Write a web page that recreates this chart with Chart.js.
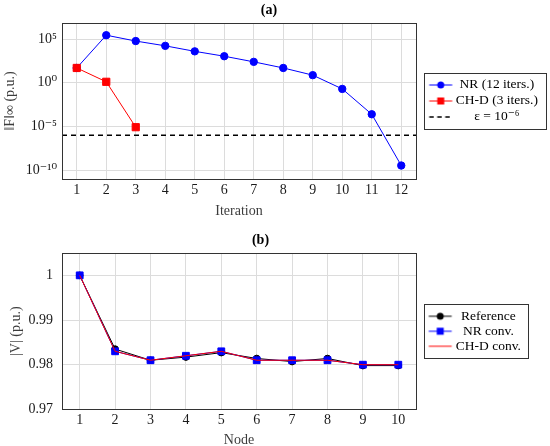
<!DOCTYPE html>
<html>
<head>
<meta charset="utf-8">
<script src="https://cdn.jsdelivr.net/npm/chart.js@4.4.1/dist/chart.umd.min.js"></script>
<style>
  html, body { margin: 0; padding: 0; background: #fff; overflow: hidden; }
  .box { position: relative; width: 550px; }
</style>
</head>
<body>
<div class="box" style="height:224px"><canvas id="chartA"></canvas></div>
<div class="box" style="height:225px"><canvas id="chartB"></canvas></div>
<script>
// (a) residual norm per iteration
const iterations = [1, 2, 3, 4, 5, 6, 7, 8, 9, 10, 11, 12];
const nrResidual = [50, 2.8e5, 6e4, 1.7e4, 4e3, 1.1e3, 2.5e2, 50, 7.5, 0.2, 2.5e-4, 3.4e-10];
const chdResidual = [50, 1.3, 8.3e-6];
const epsilon = 1e-6;
const residualTicks = [1e-10, 1e-5, 1, 1e5];

// (b) voltage magnitude per node
const nodes = [1, 2, 3, 4, 5, 6, 7, 8, 9, 10];
const refVoltage = [1.0, 0.9835, 0.9810, 0.9817, 0.9827, 0.9814, 0.9807, 0.9814, 0.9798, 0.9798];
const nrVoltage = [1.0, 0.9830, 0.9810, 0.9820, 0.9830, 0.9810, 0.9810, 0.9810, 0.9800, 0.9800];
const chdVoltage = [1.0, 0.9830, 0.9810, 0.9820, 0.9830, 0.9810, 0.9810, 0.9810, 0.9800, 0.9800];
const voltageTicks = [0.97, 0.98, 0.99, 1];

const BLUE = '#0000ff', RED = '#ff0000', BLACK = '#000000';
const GRID = '#dcdcdc', AXIS = '#333333', TXT = '#1a1a1a', LABEL = '#3c3c3c';

Chart.defaults.font.family = "'Liberation Serif', 'DejaVu Serif', serif";
Chart.defaults.font.size = 14;
Chart.defaults.color = TXT;
Chart.defaults.animation = false;

const SUP = { '-': '\u207B', '0': '\u2070', '1': '\u00B9', '2': '\u00B2', '3': '\u00B3', '4': '\u2074',
  '5': '\u2075', '6': '\u2076', '7': '\u2077', '8': '\u2078', '9': '\u2079' };
const sup = n => String(n).split('').map(c => SUP[c]).join('');

// little line+marker picture used as legend symbol
function sample(color, marker, dash) {
  const c = document.createElement('canvas');
  c.width = 48; c.height = 12;
  const g = c.getContext('2d');
  const x0 = 19.5, y = 6;
  g.strokeStyle = color; g.fillStyle = color;
  g.lineWidth = dash ? 1.4 : 1;
  if (dash) g.setLineDash([4.5, 3.5]);
  g.beginPath(); g.moveTo(x0, y); g.lineTo(x0 + 23, y); g.stroke();
  g.setLineDash([]);
  if (marker === 'circle') { g.beginPath(); g.arc(x0 + 11.5, y, 3.5, 0, Math.PI * 2); g.fill(); }
  if (marker === 'rect') g.fillRect(x0 + 11.5 - 3.5, y - 3.5, 7, 7);
  return c;
}

const plotFrame = {
  id: 'plotFrame',
  afterDraw(chart) {
    const { ctx, chartArea: a } = chart;
    ctx.save();
    ctx.strokeStyle = AXIS; ctx.lineWidth = 1;
    ctx.strokeRect(Math.round(a.left) + 0.5, Math.round(a.top) + 0.5,
      Math.round(a.right - a.left), Math.round(a.bottom - a.top));
    ctx.restore();
  }
};

const legendFrame = {
  id: 'legendFrame',
  afterDraw(chart, args, opts) {
    const lg = chart.legend;
    if (!lg || !lg.legendHitBoxes || !lg.legendHitBoxes.length) return;
    const hb = lg.legendHitBoxes;
    const top = hb[0].top - 5;
    const bottom = hb[hb.length - 1].top + hb[hb.length - 1].height + 5.5;
    const left = lg.left + 8, right = lg.right + opts.extraRight;
    const ctx = chart.ctx;
    ctx.save();
    ctx.strokeStyle = AXIS; ctx.lineWidth = 1;
    ctx.strokeRect(Math.round(left) + 0.5, Math.round(top) + 0.5,
      Math.round(right - left), Math.round(bottom - top));
    ctx.restore();
  }
};

function legendOpts(symbols, pad, boxW, maxW) {
  return {
    position: 'right',
    fullSize: false,
    maxWidth: maxW,
    labels: {
      padding: pad,
      usePointStyle: true,
      pointStyleWidth: boxW,
      textAlign: 'center',
      color: BLACK,
      font: { size: 13.5 },
      generateLabels: chart => chart.data.datasets.map((d, i) => ({
        text: d.label, pointStyle: symbols[i], datasetIndex: i,
        fillStyle: 'transparent', strokeStyle: 'transparent', lineWidth: 0,
        fontColor: BLACK, hidden: false
      }))
    }
  };
}

const xy = (xs, ys) => ys.map((y, i) => ({ x: xs[i], y }));

new Chart(document.getElementById('chartA'), {
  type: 'line',
  data: {
    datasets: [
      { label: 'NR (12 iters.)', data: xy(iterations, nrResidual), borderColor: BLUE, backgroundColor: BLUE,
        borderWidth: 1, pointStyle: 'circle', pointRadius: 3.7, order: 1 },
      { label: 'CH-D (3 iters.)', data: xy(iterations, chdResidual), borderColor: RED, backgroundColor: RED,
        borderWidth: 1, pointStyle: 'rect', pointRadius: 5.1, order: 0 },
      { label: '\u03B5 = 10' + sup(Math.log10(epsilon)), data: [{ x: 0.5, y: epsilon }, { x: 12.5, y: epsilon }],
        borderColor: BLACK, borderWidth: 1.4, borderDash: [5, 4], pointRadius: 0, order: 2 }
    ]
  },
  options: {
    responsive: true,
    maintainAspectRatio: false,
    layout: { padding: { left: 0, right: 12, top: 0, bottom: 4.5 } },
    elements: { line: { tension: 0 }, point: { borderWidth: 0, hoverRadius: 4 } },
    plugins: {
      title: { display: true, text: '(a)', color: BLACK, font: { size: 14, weight: 'bold' }, padding: { top: 1.6, bottom: 4.6 } },
      legend: legendOpts([sample(BLUE, 'circle'), sample(RED, 'rect'), sample(BLACK, null, true)], 2.5, 30.5, 122),
      legendFrame: { extraRight: 8 },
      tooltip: { enabled: false }
    },
    scales: {
      x: {
        type: 'linear', min: 0.5, max: 12.5,
        afterBuildTicks: s => { s.ticks = iterations.map(v => ({ value: v })); },
        ticks: { padding: 3.5, color: TXT },
        grid: { color: GRID, drawTicks: false },
        border: { display: false },
        title: { display: true, text: 'Iteration', color: LABEL, padding: 0 }
      },
      y: {
        type: 'logarithmic', min: 1e-11, max: 7e6,
        afterBuildTicks: s => { s.ticks = residualTicks.map(v => ({ value: v })); },
        afterFit: s => { s.width = 62; },
        ticks: { padding: 5, color: TXT, callback: v => '10' + sup(Math.round(Math.log10(v))) },
        grid: { color: GRID, drawTicks: false },
        border: { display: false },
        title: { display: true, text: '\u2016F\u2016\u221E (p.u.)', color: LABEL, padding: { top: 1.6, bottom: 0 } }
      }
    }
  },
  plugins: [plotFrame, legendFrame]
});

new Chart(document.getElementById('chartB'), {
  type: 'line',
  data: {
    datasets: [
      { label: 'Reference', data: xy(nodes, refVoltage), borderColor: BLACK, backgroundColor: BLACK,
        borderWidth: 1, pointStyle: 'circle', pointRadius: 3.3, order: 2 },
      { label: 'NR conv.', data: xy(nodes, nrVoltage), borderColor: BLUE, backgroundColor: BLUE,
        borderWidth: 1, pointStyle: 'rect', pointRadius: 4.8, order: 1 },
      { label: 'CH-D conv.', data: xy(nodes, chdVoltage), borderColor: RED, backgroundColor: RED,
        borderWidth: 1, pointRadius: 0, order: 0 }
    ]
  },
  options: {
    responsive: true,
    maintainAspectRatio: false,
    layout: { padding: { left: 0, right: 29, top: 0, bottom: 0 } },
    elements: { line: { tension: 0 }, point: { borderWidth: 0, hoverRadius: 4 } },
    plugins: {
      title: { display: true, text: '(b)', color: BLACK, font: { size: 14, weight: 'bold' }, padding: { top: 7.6, bottom: 4.6 } },
      legend: legendOpts([sample(BLACK, 'circle'), sample(BLUE, 'rect'), sample(RED, null)], 1.5, 31.5, 105),
      legendFrame: { extraRight: 7 },
      tooltip: { enabled: false }
    },
    scales: {
      x: {
        type: 'linear', min: 0.5, max: 10.5,
        afterBuildTicks: s => { s.ticks = nodes.map(v => ({ value: v })); },
        ticks: { padding: 3, color: TXT },
        grid: { color: GRID, drawTicks: false },
        border: { display: false },
        title: { display: true, text: 'Node', color: LABEL, padding: 0 }
      },
      y: {
        type: 'linear', min: 0.97, max: 1.005,
        afterBuildTicks: s => { s.ticks = voltageTicks.map(v => ({ value: v })); },
        afterFit: s => { s.width = 62; },
        ticks: { padding: 9, color: TXT, callback: v => (v === 1 ? '1' : v.toFixed(2)) },
        grid: { color: GRID, drawTicks: false },
        border: { display: false },
        title: { display: true, text: '|V| (p.u.)', color: LABEL, padding: { top: 8.3, bottom: 0 } }
      }
    }
  },
  plugins: [plotFrame, legendFrame]
});
</script>
</body>
</html>
